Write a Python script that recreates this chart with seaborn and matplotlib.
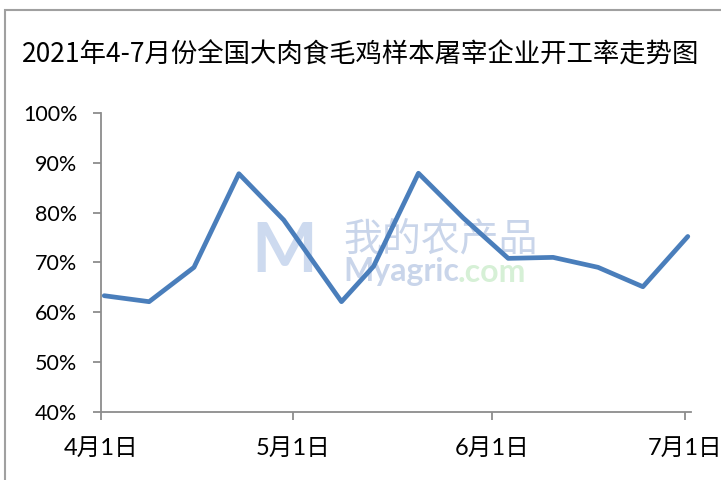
import pandas as pd
import matplotlib.pyplot as plt
import matplotlib.patches as mpatches
import seaborn as sns

# 数据
dates = ["2021-04-01", "2021-04-08", "2021-04-15", "2021-04-22", "2021-04-29",
         "2021-05-08", "2021-05-13", "2021-05-20", "2021-05-27", "2021-06-03",
         "2021-06-10", "2021-06-17", "2021-06-24", "2021-07-01"]
rates = [63.3, 62.1, 69.0, 87.8, 78.5, 62.1, 69.2, 87.9, 78.9, 70.8,
         71.0, 69.0, 65.1, 75.2]
tick_dates = ["2021-04-01", "2021-05-01", "2021-06-01", "2021-07-01"]
tick_labels = ["4月1日", "5月1日", "6月1日", "7月1日"]
y_ticks = [40, 50, 60, 70, 80, 90, 100]
title = "2021年4-7月份全国大肉食毛鸡样本屠宰企业开工率走势图"

df = pd.DataFrame({"date": pd.to_datetime(dates), "rate": rates})

sns.set_theme(style="white")
plt.rcParams['font.family'] = ['Lato', 'Noto Sans CJK SC', 'DejaVu Sans']

fig = plt.figure(figsize=(7.21, 4.8), dpi=100)
ax = fig.add_axes([101 / 721, 1 - 411.7 / 480, 590 / 721, (411.7 - 113) / 480])

sns.lineplot(data=df, x="date", y="rate", ax=ax, color="#4a7ebb",
             linewidth=3.4, zorder=3)

# Excel 日期轴：点位于日期格中间，刻度在格边界
half = pd.Timedelta(hours=12)
ax.set_xlim(pd.Timestamp("2021-04-01") - half, pd.Timestamp("2021-07-01") + half)
ax.set_xticks([pd.Timestamp(d) - half for d in tick_dates])
ax.set_xticklabels(tick_labels, fontsize=17)
ax.set_ylim(40, 100)
ax.set_yticks(y_ticks)
ax.set_yticklabels([f"{v}%" for v in y_ticks], fontsize=15.5)
ax.set_xlabel("")
ax.set_ylabel("")

for s in ["top", "right"]:
    ax.spines[s].set_visible(False)
for s in ["left", "bottom"]:
    ax.spines[s].set_color("#8c8c8c")
    ax.spines[s].set_linewidth(1.3)
ax.tick_params(axis="both", which="major", direction="out", length=6,
               width=1.3, color="#8c8c8c", labelcolor="black",
               left=True, bottom=True)
ax.tick_params(axis="y", pad=11)
ax.tick_params(axis="x", pad=13)

# 水印（放在折线下面）
tf = fig.transFigure
ax.text(441 / 721, 1 - 240 / 480, "我的农产品", transform=tf, fontsize=28,
        family=['Noto Sans CJK SC'], color="#c9d5ea", ha="center",
        va="center", zorder=1)
ax.text(343 / 721, 1 - 272 / 480, "Myagric", transform=tf, fontsize=23,
        fontweight="bold", color="#c9d5ea", ha="left", va="center", zorder=1)
ax.text(458 / 721, 1 - 272 / 480, ".com", transform=tf, fontsize=23,
        fontweight="bold", color="#d6f0d6", ha="left", va="center", zorder=1)
ax.text(284 / 721, 1 - 253 / 480, "M", transform=tf, fontsize=50,
        fontweight="bold", color="#cddaef", ha="center", va="center", zorder=1)

fig.text(361 / 721, 1 - 55 / 480, title, fontsize=19,
         family=['Noto Sans CJK SC'], color="black", ha="center", va="center")

# 外框
frame = mpatches.Rectangle((4.5 / 721, -0.1), 1.2, (1 - 9.5 / 480) + 0.1,
                           transform=fig.transFigure, fill=False,
                           edgecolor="#a0a0a0", linewidth=1.5)
fig.patches.append(frame)

fig.savefig("out.png", dpi=100)
